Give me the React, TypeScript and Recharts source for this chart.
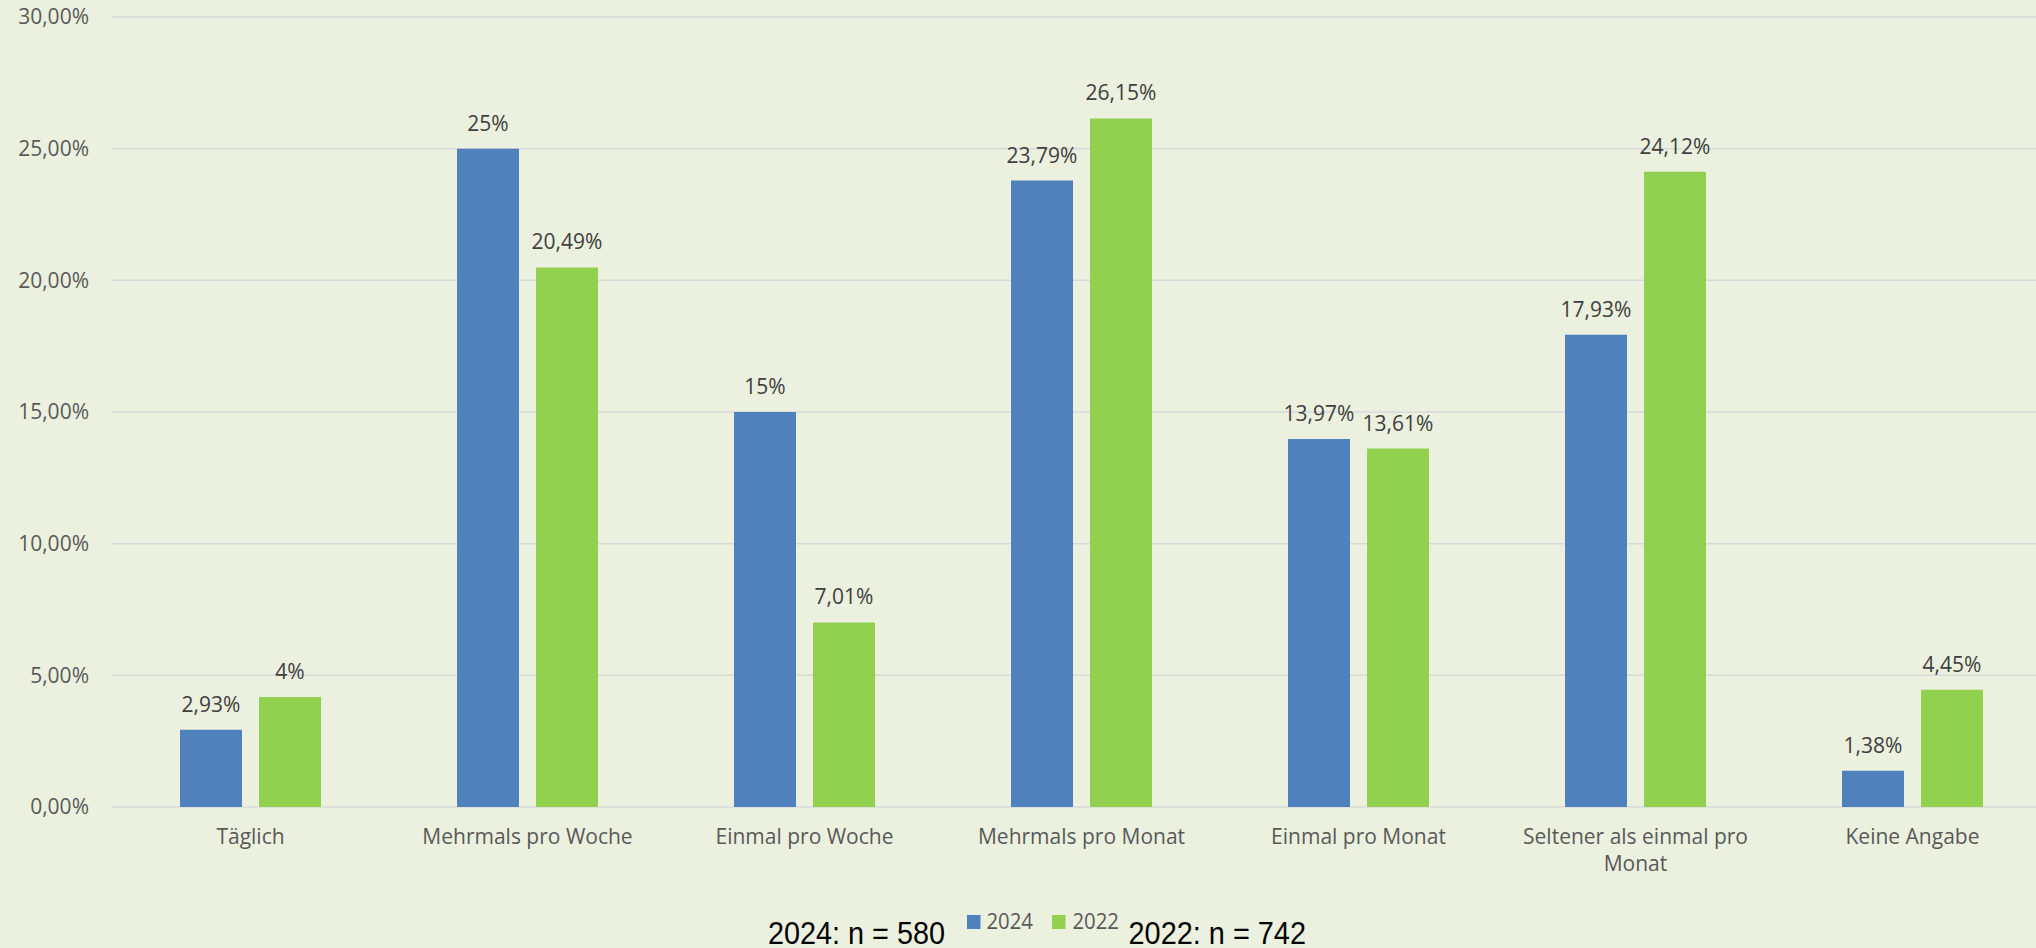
import React from "react";
import {
  BarChart,
  Bar,
  XAxis,
  YAxis,
  CartesianGrid,
  LabelList,
  Legend,
} from "recharts";

const categories = [
  "Täglich",
  "Mehrmals pro Woche",
  "Einmal pro Woche",
  "Mehrmals pro Monat",
  "Einmal pro Monat",
  "Seltener als einmal pro Monat",
  "Keine Angabe",
];
const seriesNames = ["2024", "2022"];
const values2024 = [2.93, 25, 15, 23.79, 13.97, 17.93, 1.38];
const values2022 = [4.18, 20.49, 7.01, 26.15, 13.61, 24.12, 4.45];
const labels2024 = ["2,93%", "25%", "15%", "23,79%", "13,97%", "17,93%", "1,38%"];
const labels2022 = ["4%", "20,49%", "7,01%", "26,15%", "13,61%", "24,12%", "4,45%"];
const yTicks = [0, 5, 10, 15, 20, 25, 30];
const sampleNotes = ["2024: n = 580", "2022: n = 742"];

const FONT = "'Open Sans', sans-serif";
const FONT_SIZE = 21;
const BG = "#EBF1DE";

const data = categories.map((name, i) => ({
  name,
  y2024: values2024[i],
  y2022: values2022[i],
  l2024: labels2024[i],
  l2022: labels2022[i],
}));

// greedy word wrap, measured with a canvas
function wrapWords(text: string, maxWidth: number): string[] {
  const canvas = document.createElement("canvas");
  const ctx = canvas.getContext("2d");
  if (!ctx) return [text];
  ctx.font = `${FONT_SIZE}px ${FONT}`;
  const words = text.split(" ");
  const lines: string[] = [];
  let cur = "";
  words.forEach((w) => {
    const next = cur ? cur + " " + w : w;
    if (cur && ctx.measureText(next).width > maxWidth) {
      lines.push(cur);
      cur = w;
    } else {
      cur = next;
    }
  });
  if (cur) lines.push(cur);
  return lines;
}

const CategoryTick = (props: any) => {
  const { x, y, payload } = props;
  const lines = wrapWords(String(payload.value), 240);
  return (
    <text
      x={x}
      y={y}
      textAnchor="middle"
      fill="#595959"
      fontSize={FONT_SIZE}
      fontFamily={FONT}
    >
      {lines.map((line, i) => (
        <tspan key={i} x={x} dy={i === 0 ? 15 : 27}>
          {line}
        </tspan>
      ))}
    </text>
  );
};

const LegendContent = (props: any) => {
  const payload = props.payload || [];
  const items = seriesNames.map((n) => payload.find((p: any) => p.value === n));
  const a = items[0];
  const b = items[1];
  const noteFont = "'Liberation Sans', Arial, sans-serif";
  return (
    <svg width={2036} height={68}>
      <text
        x={768}
        y={64}
        fontSize={31}
        fontFamily={noteFont}
        fill="#000"
        textLength={177}
        lengthAdjust="spacingAndGlyphs"
      >
        {sampleNotes[0]}
      </text>
      {a && <rect x={967} y={35} width={13.5} height={14} fill={a.color} />}
      {a && (
        <text
          x={986.5}
          y={49}
          fontSize={21}
          fontFamily={FONT}
          fill="#595959"
          textLength={46.5}
          lengthAdjust="spacingAndGlyphs"
        >
          {a.value}
        </text>
      )}
      {b && <rect x={1052} y={35} width={13.5} height={14} fill={b.color} />}
      {b && (
        <text
          x={1072.5}
          y={49}
          fontSize={21}
          fontFamily={FONT}
          fill="#595959"
          textLength={46.5}
          lengthAdjust="spacingAndGlyphs"
        >
          {b.value}
        </text>
      )}
      <text
        x={1128.5}
        y={64}
        fontSize={31}
        fontFamily={noteFont}
        fill="#000"
        textLength={177.5}
        lengthAdjust="spacingAndGlyphs"
      >
        {sampleNotes[1]}
      </text>
    </svg>
  );
};

export default function App() {
  return (
    <div
      style={{
        position: "absolute",
        left: 0,
        top: 0,
        width: 2036,
        height: 948,
        overflow: "hidden",
        background: BG,
      }}
    >
      <BarChart
        width={2051}
        height={948}
        data={data}
        margin={{ top: 17, right: 0, left: 0, bottom: 81 }}
        barSize={62}
        barGap={17}
      >
        <CartesianGrid vertical={false} stroke="#D9D9D9" strokeWidth={1.5} />
        <XAxis
          dataKey="name"
          axisLine={false}
          tickLine={false}
          tickSize={0}
          tickMargin={22}
          height={60}
          interval={0}
          tick={<CategoryTick />}
        />
        <YAxis
          width={112}
          domain={[0, 30]}
          ticks={yTicks}
          axisLine={false}
          tickLine={false}
          tickSize={0}
          tickMargin={23}
          tick={{ fill: "#595959", fontSize: FONT_SIZE, fontFamily: FONT }}
          tickFormatter={(v: number) => `${v.toFixed(2).replace(".", ",")}%`}
        />
        <Legend
          layout="vertical"
          align="center"
          verticalAlign="middle"
          wrapperStyle={{ position: "absolute", left: 0, top: 880, width: 2036, height: 68 }}
          content={<LegendContent />}
        />
        <Bar dataKey="y2024" name={seriesNames[0]} fill="#4F81BD" isAnimationActive={false}>
          <LabelList
            dataKey="l2024"
            position="top"
            offset={18}
            fill="#404040"
            fontSize={FONT_SIZE}
            fontFamily={FONT}
          />
        </Bar>
        <Bar dataKey="y2022" name={seriesNames[1]} fill="#92D050" isAnimationActive={false}>
          <LabelList
            dataKey="l2022"
            position="top"
            offset={18}
            fill="#404040"
            fontSize={FONT_SIZE}
            fontFamily={FONT}
          />
        </Bar>
      </BarChart>
    </div>
  );
}
